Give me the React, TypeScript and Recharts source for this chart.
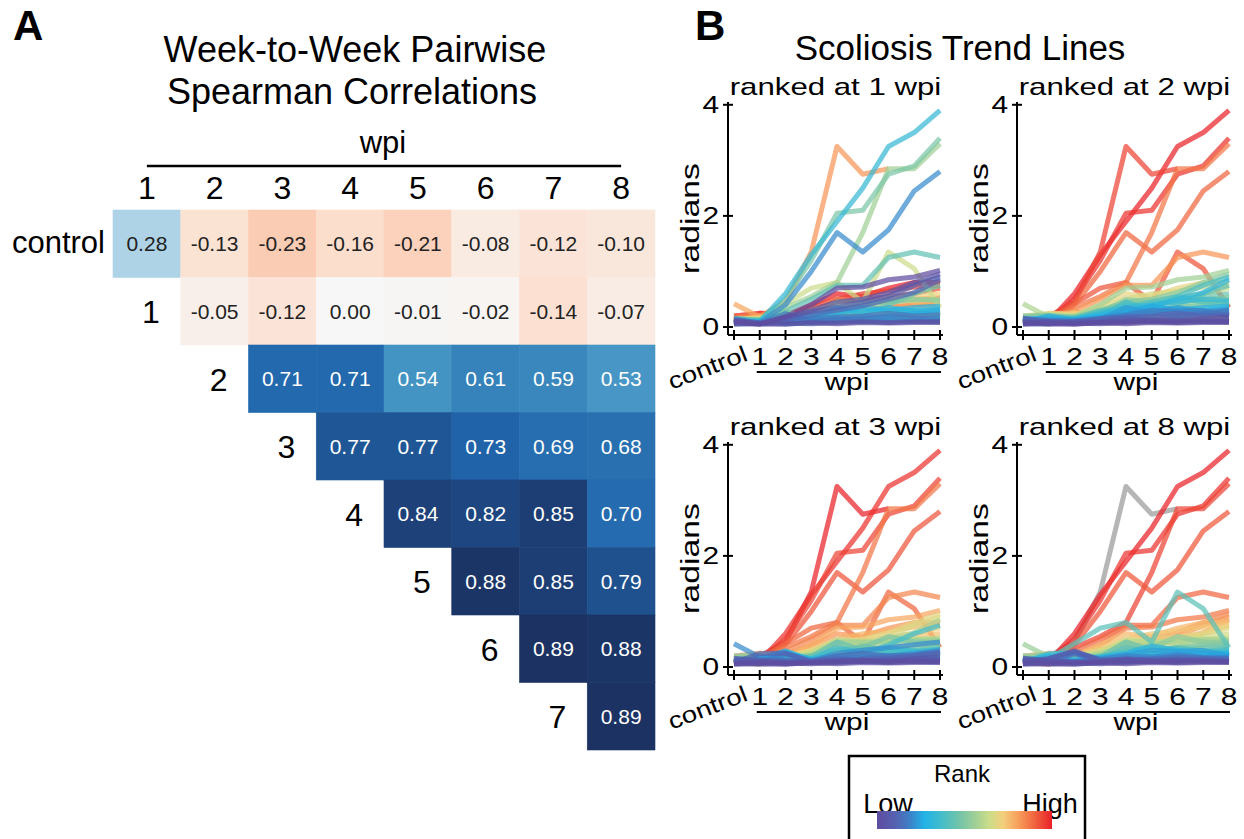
import React from 'react';
import { ScatterChart, Scatter, XAxis, YAxis, LineChart, Line } from 'recharts';

const FONT = '"Liberation Sans", Arial, Helvetica, sans-serif';

// ---------------- Panel A: week-to-week Spearman correlations ----------------
const HEAT_COLS = [1, 2, 3, 4, 5, 6, 7, 8];
const HEAT_ROWS = ['control', '1', '2', '3', '4', '5', '6', '7'];
const RHO_CONTROL = [0.28, -0.13, -0.23, -0.16, -0.21, -0.08, -0.12, -0.1];
const RHO_WPI1 = [null, -0.05, -0.12, 0.0, -0.01, -0.02, -0.14, -0.07];
const RHO_WPI2 = [null, null, 0.71, 0.71, 0.54, 0.61, 0.59, 0.53];
const RHO_WPI3 = [null, null, null, 0.77, 0.77, 0.73, 0.69, 0.68];
const RHO_WPI4 = [null, null, null, null, 0.84, 0.82, 0.85, 0.7];
const RHO_WPI5 = [null, null, null, null, null, 0.88, 0.85, 0.79];
const RHO_WPI6 = [null, null, null, null, null, null, 0.89, 0.88];
const RHO_WPI7 = [null, null, null, null, null, null, null, 0.89];
const RHO_ROWS = [RHO_CONTROL, RHO_WPI1, RHO_WPI2, RHO_WPI3, RHO_WPI4, RHO_WPI5, RHO_WPI6, RHO_WPI7];

// ---------------- Panel B: per-fish curvature (radians) ----------------
const WPI_LABELS = ['control', '1', '2', '3', '4', '5', '6', '7', '8'];

// fish that develop strong curves
const SEVERE: (number | null)[][] = [
  [0.15, 0.19, 0.45, 1.35, 3.25, 2.75, 2.85, null, null],
  [0.12, 0.097, 0.6, 1.3, 1.9, 2.5, 3.25, 3.5, 3.9],
  [0.15, 0.121, 0.5, 1.2, 2.05, 2.1, 2.75, 2.9, 3.4],
  [0.1, 0.133, 0.35, 0.55, 0.8, 1.7, 2.85, 2.85, 3.3],
  [0.12, 0.077, 0.4, 1.0, 1.7, 1.35, 1.75, 2.45, 2.8],
  [0.1, 0.113, 0.28, 0.5, 0.75, 0.75, 1.25, 1.35, 1.25],
  [0.15, 0.145, 0.42, 0.7, 0.8, 0.45, 1.35, 1.05, 0.35],
];

// fish with a steady late rise
const RISING: (number | null)[][] = [
  [0.1, 0.05, 0.185, 0.4, 0.7, 0.72, 0.85, 0.9, 1.02],
  [0.12, 0.056, 0.175, 0.3, 0.45, 0.5, 0.62, 0.8, 0.95],
  [0.1, 0.062, 0.15, 0.28, 0.35, 0.45, 0.55, 0.75, 0.9],
  [0.08, 0.066, 0.135, 0.22, 0.3, 0.38, 0.5, 0.62, 0.85],
  [0.12, 0.117, 0.16, 0.15, 0.2, 0.25, 0.4, 0.6, 0.75],
];

// fish with moderate curvature
const MODERATE: (number | null)[][] = [
  [0.2, 0.25, 0.21, 0.4, 0.6, 0.55, 0.7, 0.8, 0.8],
  [0.15, 0.23, 0.205, 0.35, 0.5, 0.6, 0.65, 0.72, 0.75],
  [0.12, 0.22, 0.2, 0.3, 0.45, 0.5, 0.55, 0.6, 0.7],
  [0.1, 0.16, 0.165, 0.3, 0.4, 0.35, 0.5, 0.55, 0.6],
  [0.18, 0.205, 0.18, 0.25, 0.5, 0.45, 0.45, 0.5, 0.52],
  [0.15, 0.125, 0.14, 0.25, 0.35, 0.4, 0.45, 0.5, 0.48],
  [0.12, 0.17, 0.155, 0.2, 0.3, 0.35, 0.55, 0.45, 0.45],
  [0.2, 0.21, 0.17, 0.2, 0.28, 0.3, 0.35, 0.4, 0.42],
  [0.1, 0.089, 0.13, 0.2, 0.25, 0.35, 0.3, 0.35, 0.38],
  [0.14, 0.165, 0.145, 0.18, 0.45, 0.3, 0.32, 0.3, 0.35],
  [0.42, 0.18, 0.19, 0.11, 0.25, 0.3, 0.35, 0.4, 0.45],
  [0.1, 0.141, 0.195, 0.2, 0.45, 0.45, 0.45, 0.48, 0.5],
];

// fish that stay nearly straight
const MILD: (number | null)[][] = [
  [0.1, 0.085, 0.1, 0.12, 0.15, 0.18, 0.2, 0.25, 0.3],
  [0.08, 0.24, 0.25, 0.1, 0.12, 0.15, 0.15, 0.2, 0.25],
  [0.12, 0.129, 0.115, 0.1, 0.2, 0.25, 0.2, 0.22, 0.28],
  [0.15, 0.069, 0.09, 0.15, 0.18, 0.2, 0.25, 0.2, 0.22],
  [0.06, 0.101, 0.06, 0.08, 0.1, 0.12, 0.1, 0.15, 0.18],
  [0.1, 0.137, 0.27, 0.12, 0.1, 0.1, 0.12, 0.12, 0.15],
  [0.14, 0.105, 0.11, 0.16, 0.22, 0.3, 0.28, 0.3, 0.2],
  [0.05, 0.059, 0.07, 0.06, 0.08, 0.1, 0.08, 0.1, 0.1],
  [0.08, 0.081, 0.085, 0.1, 0.15, 0.12, 0.15, 0.12, 0.12],
  [0.11, 0.155, 0.26, 0.14, 0.2, 0.18, 0.22, 0.18, 0.16],
  [0.07, 0.053, 0.05, 0.08, 0.06, 0.08, 0.07, 0.08, 0.08],
  [0.09, 0.2, 0.125, 0.18, 0.25, 0.38, 0.3, 0.25, 0.24],
  [0.13, 0.073, 0.24, 0.1, 0.13, 0.15, 0.18, 0.16, 0.14],
  [0.06, 0.15, 0.29, 0.12, 0.14, 0.12, 0.1, 0.14, 0.1],
  [0.1, 0.093, 0.12, 0.14, 0.35, 0.25, 0.35, 0.28, 0.32],
  [0.16, 0.109, 0.095, 0.09, 0.12, 0.1, 0.12, 0.1, 0.09],
];

const SPECIMENS = [...SEVERE, ...RISING, ...MODERATE, ...MILD];
const RANK_WEEKS = ['1', '2', '3', '8'];
const PANEL_TITLES = ['ranked at 1 wpi', 'ranked at 2 wpi', 'ranked at 3 wpi', 'ranked at 8 wpi'];
const RADIAN_TICKS = [0, 2, 4];

const TREND_ROWS = WPI_LABELS.map((w, i) => {
  const row: Record<string, any> = { wpi: w };
  SPECIMENS.forEach((s, k) => {
    row['f' + k] = s[i];
  });
  return row;
});

const HEAT_CELLS = RHO_ROWS.flatMap((row, r) =>
  row
    .map((v, c) => (v === null ? null : { col: HEAT_COLS[c], row: r, rho: v }))
    .filter((d): d is { col: number; row: number; rho: number } => d !== null)
);

// ---------------- colour helpers ----------------
function hexToRgb(h: string) {
  const n = parseInt(h.slice(1), 16);
  return [(n >> 16) & 255, (n >> 8) & 255, n & 255];
}
function mixStops(stops: [number, string][], t: number) {
  const tt = Math.max(0, Math.min(1, t));
  for (let i = 1; i < stops.length; i++) {
    if (tt <= stops[i][0]) {
      const [p0, c0] = stops[i - 1];
      const [p1, c1] = stops[i];
      const f = (tt - p0) / (p1 - p0 || 1);
      const a = hexToRgb(c0);
      const b = hexToRgb(c1);
      const m = a.map((v, j) => Math.round(v + (b[j] - v) * f));
      return `rgb(${m[0]},${m[1]},${m[2]})`;
    }
  }
  return stops[stops.length - 1][1];
}
const RDBU = ['#67001f', '#b2182b', '#d6604d', '#f4a582', '#fddbc7', '#f7f7f7', '#d1e5f0', '#92c5de', '#4393c3', '#2166ac', '#1b2f5e'];
const RDBU_STOPS: [number, string][] = RDBU.map((c, i) => [i / 10, c]);
const rhoColor = (v: number) => mixStops(RDBU_STOPS, (v + 0.9) / 1.8);

const RANK_STOPS: [number, string][] = [
  [0, '#5e4c9f'],
  [0.1, '#5660b0'],
  [0.18, '#3f7dc4'],
  [0.27, '#22b2e6'],
  [0.36, '#40bccc'],
  [0.46, '#6ec3ac'],
  [0.56, '#9fcf97'],
  [0.64, '#cbdd8a'],
  [0.72, '#f2cf7c'],
  [0.8, '#f7a35e'],
  [0.9, '#f0643f'],
  [1, '#e92128'],
];
const rankColor = (t: number) => mixStops(RANK_STOPS, t);

// ---------------- Panel A drawing ----------------
const CELL_W = 542 / 8;
const CELL_H = 540 / 8;

function HeatCell(props: any) {
  const { cx, cy, payload } = props;
  const v: number = payload.rho;
  const fill = rhoColor(v);
  return (
    <g>
      <rect x={cx - CELL_W / 2} y={cy - CELL_H / 2} width={CELL_W} height={CELL_H} fill={fill} stroke={fill} strokeWidth={0.6} />
      <text x={cx} y={cy + 7.5} textAnchor="middle" fontSize={21} fontFamily={FONT} fill={v > 0.45 ? '#ffffff' : '#222222'}>
        {v.toFixed(2)}
      </text>
    </g>
  );
}

function ColTick(props: any) {
  const { x, y, payload } = props;
  return (
    <text x={x} y={y - 11} textAnchor="middle" fontSize={32} fontFamily={FONT} fill="#000">
      {payload.value}
    </text>
  );
}

function RowTick(props: any) {
  const { x, y, payload } = props;
  const idx: number = payload.value;
  if (idx === 0) {
    return (
      <text x={x - 8} y={y + 9} textAnchor="end" fontSize={31} fontFamily={FONT} fill="#000">
        {HEAT_ROWS[0]}
      </text>
    );
  }
  return (
    <text x={x + CELL_W * (idx - 0.5) + 4} y={y + 12} textAnchor="middle" fontSize={32} fontFamily={FONT} fill="#000">
      {HEAT_ROWS[idx]}
    </text>
  );
}

function HeatWpiLabel(props: any) {
  const { x, y, width, height } = props.viewBox;
  const top = y + height;
  return (
    <g>
      <line x1={x + CELL_W / 2} x2={x + width - CELL_W / 2} y1={top - 44} y2={top - 44} stroke="#000" strokeWidth={2.5} />
      <text x={x + width / 2 - 1} y={top - 57} textAnchor="middle" fontSize={31} fontFamily={FONT} fill="#000">
        wpi
      </text>
    </g>
  );
}

function CorrelationHeatmap() {
  return (
    <div style={{ position: 'absolute', left: 0, top: 0 }}>
      <ScatterChart width={660} height={839} margin={{ top: 150, right: 5, bottom: 89, left: 53 }}>
        <XAxis
          type="number"
          dataKey="col"
          orientation="top"
          domain={[0.5, 8.5]}
          ticks={HEAT_COLS}
          interval={0}
          height={60}
          axisLine={false}
          tickLine={false}
          tickSize={0}
          tickMargin={0}
          tick={(p: any) => <ColTick {...p} />}
          label={(p: any) => <HeatWpiLabel {...p} />}
        />
        <YAxis
          type="number"
          dataKey="row"
          domain={[-0.5, 7.5]}
          reversed
          ticks={[0, 1, 2, 3, 4, 5, 6, 7]}
          interval={0}
          width={60}
          axisLine={false}
          tickLine={false}
          tickSize={0}
          tickMargin={0}
          tick={(p: any) => <RowTick {...p} />}
        />
        <Scatter data={HEAT_CELLS} shape={(p: any) => <HeatCell {...p} />} isAnimationActive={false} />
      </ScatterChart>
    </div>
  );
}

// ---------------- Panel B drawing ----------------
const SX = 1.3; // the figure's lettering is set wide
const stretch = (x: number, y: number, rot = 0, sx = SX) =>
  `translate(${x},${y})${rot ? ` rotate(${rot})` : ''} scale(${sx},1)`;

const PLOT_W = 215;
const PLOT_H = 233;
const PAD_L = 6;
const PAD_R = 3;
const STEP = (PLOT_W - PAD_L - PAD_R) / 8;

function TrendXTick(props: any) {
  const { x, y, payload } = props;
  const label = String(payload.value);
  return (
    <g>
      <line x1={x} x2={x} y1={y - 5} y2={y + 5} stroke="#000" strokeWidth={2} />
      {label === 'control' ? (
        <text transform={stretch(x + 15, y + 25, -21, 1.2)} textAnchor="end" fontSize={23} fontFamily={FONT} fill="#000">
          {label}
        </text>
      ) : (
        <text transform={stretch(x, y + 30)} textAnchor="middle" fontSize={23} fontFamily={FONT} fill="#000">
          {label}
        </text>
      )}
    </g>
  );
}

function TrendYTick(props: any) {
  const { x, y, payload } = props;
  return (
    <g>
      <line x1={x - 5} x2={x + 5} y1={y} y2={y} stroke="#000" strokeWidth={2} />
      <text transform={stretch(x - 9, y + 8)} textAnchor="end" fontSize={23} fontFamily={FONT} fill="#000">
        {payload.value}
      </text>
    </g>
  );
}

function TrendWpiLabel(props: any) {
  const { x, y } = props.viewBox;
  const first = x + PAD_L + STEP;
  const last = x + PLOT_W - PAD_R;
  return (
    <g>
      <line x1={first - 3} x2={last + 1} y1={y + 37} y2={y + 37} stroke="#000" strokeWidth={2} />
      <text transform={stretch((first + last) / 2 - 3, y + 55)} textAnchor="middle" fontSize={23} fontFamily={FONT} fill="#000">
        wpi
      </text>
    </g>
  );
}

function TrendYLabel(props: any) {
  const { x, y, width, height } = props.viewBox;
  const axisX = x + width;
  return (
    <g>
      <text transform={stretch(axisX - 29, y + height / 2, -90)} textAnchor="middle" fontSize={26} fontFamily={FONT} fill="#000">
        radians
      </text>
      <text transform={stretch(axisX + PLOT_W / 2, y - 7)} textAnchor="middle" fontSize={24} fontFamily={FONT} fill="#000">
        {props.title}
      </text>
    </g>
  );
}

function TrendPanel({ rankWeek, title, axisX, plotTop }: { rankWeek: string; title: string; axisX: number; plotTop: number }) {
  const idx = WPI_LABELS.indexOf(rankWeek);
  const ranked = SPECIMENS.map((s, k) => ({ k, v: s[idx] }))
    .filter((d) => d.v !== null && d.v !== undefined)
    .sort((a, b) => (a.v as number) - (b.v as number));
  const rankOf: Record<number, number> = {};
  ranked.forEach((d, r) => {
    rankOf[d.k] = r;
  });
  const colorOf = (k: number) => (rankOf[k] === undefined ? '#9a9a9a' : rankColor(rankOf[k] / (ranked.length - 1)));
  // highest-ranked fish are drawn first, lowest last
  const order = SPECIMENS.map((_, k) => k).sort((a, b) => (rankOf[b] ?? 1e9) - (rankOf[a] ?? 1e9));

  return (
    <div style={{ position: 'absolute', left: axisX - 70, top: plotTop - 50 }}>
      <LineChart width={70 + PLOT_W + 10} height={50 + PLOT_H + 70} data={TREND_ROWS} margin={{ top: 50, right: 10, bottom: 0, left: 0 }}>
        <XAxis
          dataKey="wpi"
          type="category"
          scale="point"
          padding={{ left: PAD_L, right: PAD_R }}
          height={70}
          interval={0}
          tickSize={0}
          tickMargin={0}
          tickLine={false}
          axisLine={{ stroke: '#000', strokeWidth: 2 }}
          tick={(p: any) => <TrendXTick {...p} />}
          label={(p: any) => <TrendWpiLabel {...p} />}
        />
        <YAxis
          type="number"
          domain={[-0.144, 4.05]}
          allowDataOverflow
          ticks={RADIAN_TICKS}
          interval={0}
          width={70}
          tickSize={0}
          tickMargin={0}
          tickLine={false}
          axisLine={{ stroke: '#000', strokeWidth: 2 }}
          tick={(p: any) => <TrendYTick {...p} />}
          label={(p: any) => <TrendYLabel {...p} title={title} />}
        />
        {order.map((k) => (
          <Line
            key={k}
            dataKey={'f' + k}
            type="linear"
            stroke={colorOf(k)}
            strokeWidth={5}
            strokeOpacity={0.72}
            strokeLinejoin="round"
            dot={false}
            activeDot={false}
            connectNulls={false}
            isAnimationActive={false}
          />
        ))}
      </LineChart>
    </div>
  );
}

const PANEL_POS = [
  { axisX: 728, plotTop: 102 },
  { axisX: 1017, plotTop: 102 },
  { axisX: 728, plotTop: 442 },
  { axisX: 1017, plotTop: 442 },
];

function Headings() {
  return (
    <svg width={1244} height={839} style={{ position: 'absolute', left: 0, top: 0 }} fontFamily={FONT}>
      <text x={13} y={40} fontSize={42} fontWeight="bold" fill="#000">A</text>
      <text x={695} y={40} fontSize={42} fontWeight="bold" fill="#000">B</text>
      <text x={355} y={62} fontSize={36} textAnchor="middle" fill="#000">Week-to-Week Pairwise</text>
      <text x={352} y={104} fontSize={36} textAnchor="middle" fill="#000">Spearman Correlations</text>
      <text x={960} y={60} fontSize={35} textAnchor="middle" fill="#000">Scoliosis Trend Lines</text>
      <defs>
        <linearGradient id="rankGrad" x1="0" x2="1" y1="0" y2="0">
          {RANK_STOPS.map(([p, c]) => (
            <stop key={p} offset={p} stopColor={c} />
          ))}
        </linearGradient>
      </defs>
      <rect x={849} y={756} width={236} height={100} fill="#fff" stroke="#000" strokeWidth={2.5} />
      <text x={962} y={782} fontSize={24} textAnchor="middle" fill="#000">Rank</text>
      <text x={888} y={813} fontSize={27} textAnchor="middle" fill="#000">Low</text>
      <text x={1050} y={813} fontSize={27} textAnchor="middle" fill="#000">High</text>
      <rect x={877} y={811} width={175} height={18} fill="url(#rankGrad)" />
    </svg>
  );
}

export default function App() {
  return (
    <div
      style={{
        position: 'absolute',
        left: 0,
        top: 0,
        width: 1244,
        height: 839,
        overflow: 'hidden',
        background: '#fff',
        fontFamily: FONT,
      }}
    >
      <Headings />
      <CorrelationHeatmap />
      {RANK_WEEKS.map((w, i) => (
        <TrendPanel key={w} rankWeek={w} title={PANEL_TITLES[i]} axisX={PANEL_POS[i].axisX} plotTop={PANEL_POS[i].plotTop} />
      ))}
    </div>
  );
}
